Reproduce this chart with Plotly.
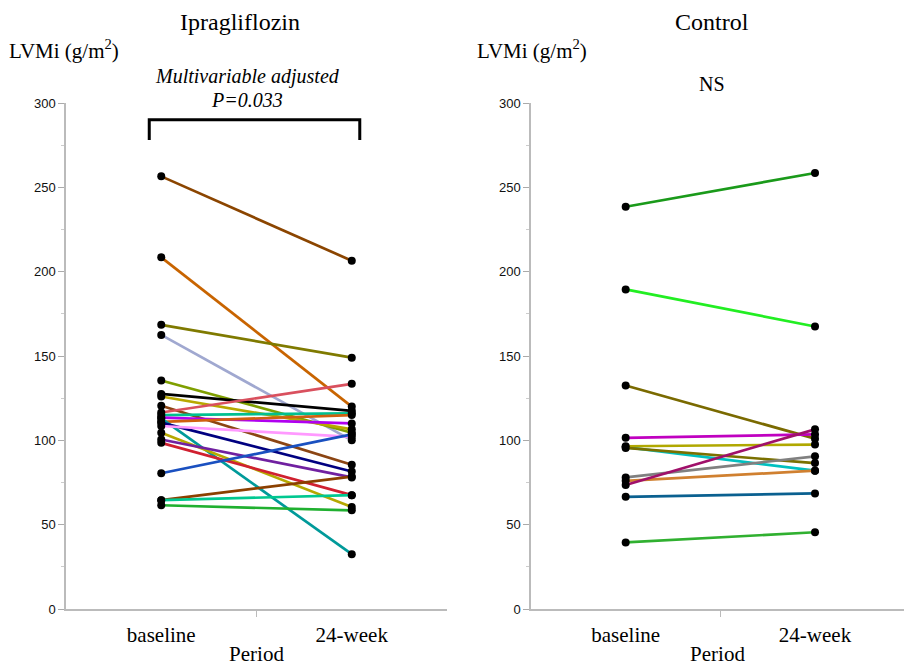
import plotly.graph_objects as go

# ---------------- data ----------------
periods = ["baseline", "24-week"]

# Ipragliflozin group: LVMi (g/m2) at baseline and at 24 weeks
ipra_baseline = [256.5, 208.5, 168.5, 162.5, 135.5, 127.5, 126.0, 120.5, 116.5, 115.0, 113.5,
                 111.0, 113.0, 110.5, 108.5, 104.5, 100.5, 98.5, 80.5, 64.5, 64.5, 61.5]
ipra_week24 = [206.5, 120.0, 149.0, 100.0, 104.5, 117.5, 106.5, 85.5, 133.5, 116.0, 110.0,
               115.0, 32.5, 81.5, 102.0, 60.5, 78.0, 67.5, 103.5, 78.5, 67.5, 58.5]
ipra_colors = ["#8B4500", "#C86400", "#7F7A00", "#A0A8D0", "#7F9F00", "#000000", "#B8A800",
               "#8B4513", "#D9505E", "#00C090", "#B000F0", "#D06010", "#009A9A", "#000080",
               "#FF99FF", "#B5A800", "#7020A0", "#D02030", "#1A50C0", "#8B4000", "#00C890",
               "#20B030"]

# Control group
ctrl_baseline = [238.5, 189.5, 132.5, 101.5, 96.0, 96.5, 95.5, 78.0, 76.0, 73.5, 66.5, 39.5]
ctrl_week24 = [258.5, 167.5, 101.0, 103.5, 82.0, 97.5, 86.5, 90.5, 82.0, 106.5, 68.5, 45.5]
ctrl_colors = ["#1A9A1A", "#22EE22", "#7A6A00", "#C000C0", "#00C0C0", "#B0A800", "#7A7000",
               "#808080", "#D08030", "#A0106A", "#0A6090", "#30B030"]

y_ticks = [0, 50, 100, 150, 200, 250, 300]

# ---------------- figure ----------------
fig = go.Figure()
xpos = [0, 1]

for b, w, c in zip(ipra_baseline, ipra_week24, ipra_colors):
    fig.add_trace(go.Scatter(x=xpos, y=[b, w], mode="lines+markers",
                             line=dict(color=c, width=2.7),
                             marker=dict(color="black", size=8),
                             xaxis="x", yaxis="y", showlegend=False, hoverinfo="skip"))

for b, w, c in zip(ctrl_baseline, ctrl_week24, ctrl_colors):
    fig.add_trace(go.Scatter(x=xpos, y=[b, w], mode="lines+markers",
                             line=dict(color=c, width=2.7),
                             marker=dict(color="black", size=8),
                             xaxis="x2", yaxis="y2", showlegend=False, hoverinfo="skip"))

serif = "Times New Roman, Liberation Serif, Times, serif"
sans = "Arial, Liberation Sans, Helvetica, sans-serif"

xaxis_common = dict(
    range=[-0.5, 1.5], tickvals=xpos, ticktext=periods, ticks="",
    showline=True, linecolor="#bbbbbb", linewidth=1.5, showgrid=False, zeroline=False,
    tickfont=dict(family=serif, size=21, color="black"),
    ticklabelstandoff=6,
    minor=dict(tickvals=[0.5], ticks="outside", ticklen=6, tickcolor="#bbbbbb", tickwidth=1),
    title=dict(text="Period", font=dict(family=serif, size=21, color="black"), standoff=0),
)
yaxis_common = dict(
    range=[0, 300], tickvals=y_ticks, ticks="outside", ticklen=6, tickcolor="#aaaaaa",
    showline=True, linecolor="#bbbbbb", linewidth=1.5, showgrid=False, zeroline=False,
    tickfont=dict(family=sans, size=13, color="#111111"),
    minor=dict(tickvals=[25, 75, 125, 175, 225, 275], ticks="outside", ticklen=3,
               tickcolor="#cccccc"),
    domain=[0, 1],
)

fig.update_layout(
    width=904, height=666,
    margin=dict(l=0, r=0, t=103, b=57),
    paper_bgcolor="white", plot_bgcolor="white",
    font=dict(family=serif),
    xaxis=dict(domain=[0.073, 0.4945], anchor="y", **xaxis_common),
    yaxis=dict(anchor="x", **yaxis_common),
    xaxis2=dict(domain=[0.5874, 1.0], anchor="y2", **{**xaxis_common, "range": [-0.5, 1.47]}),
    yaxis2=dict(anchor="x2", **yaxis_common),
)

ann_font = dict(family=serif, size=24, color="black")
lab_font = dict(family=serif, size=21, color="black")
annots = [
    dict(text="Ipragliflozin", x=240 / 904, y=1.160, font=ann_font, xanchor="center"),
    dict(text="Control", x=712 / 904, y=1.160, font=ann_font, xanchor="center"),
    dict(text="LVMi (g/m<sup>2</sup>)", x=7 / 904, y=1.105, font=lab_font, xanchor="left"),
    dict(text="LVMi (g/m<sup>2</sup>)", x=475 / 904, y=1.105, font=lab_font, xanchor="left"),
    dict(text="<i>Multivariable adjusted</i>", x=247 / 904, y=1.053,
         font=dict(family=serif, size=20, color="black"), xanchor="center"),
    dict(text="<i>P=0.033</i>", x=247 / 904, y=1.006,
         font=dict(family=serif, size=20, color="black"), xanchor="center"),
    dict(text="NS", x=712 / 904, y=1.0375,
         font=dict(family=serif, size=20, color="black"), xanchor="center"),
]
for a in annots:
    fig.add_annotation(xref="paper", yref="paper", showarrow=False, yanchor="middle", **a)

# significance bracket over Ipragliflozin panel
bracket_x = [-0.063, 1.042]
bracket_y = [278, 290]
fig.add_shape(type="path", xref="x", yref="y",
              path=f"M {bracket_x[0]},{bracket_y[0]} L {bracket_x[0]},{bracket_y[1]} "
                   f"L {bracket_x[1]},{bracket_y[1]} L {bracket_x[1]},{bracket_y[0]}",
              line=dict(color="black", width=3))

fig.write_html("out.html", config={"displayModeBar": False},
               post_script="document.body.style.margin='0';")
